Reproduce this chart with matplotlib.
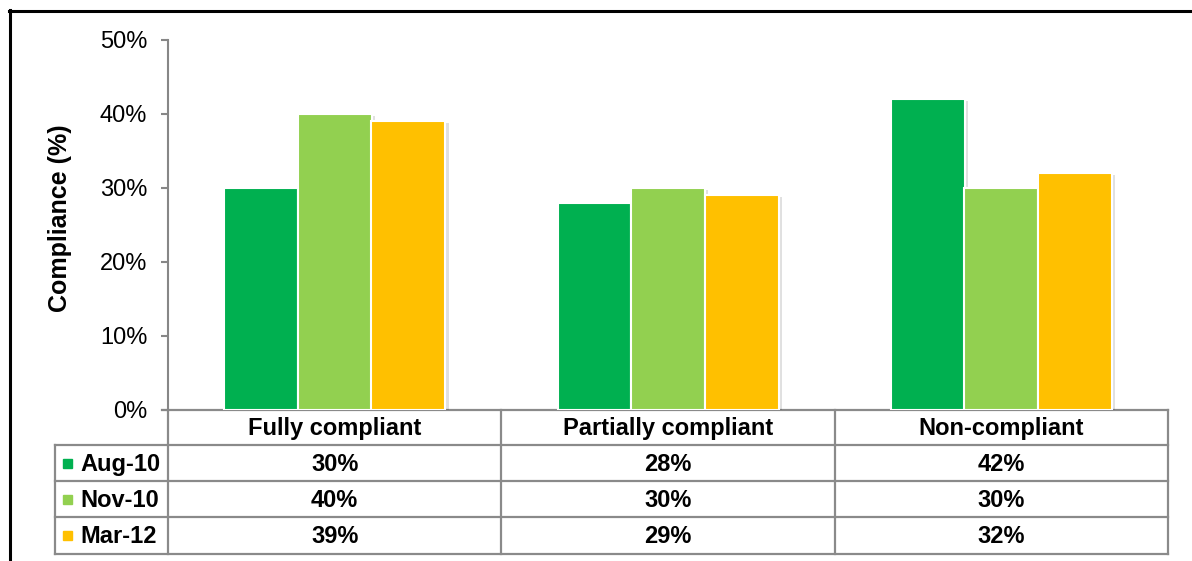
import matplotlib
matplotlib.use("Agg")
import matplotlib.pyplot as plt
from matplotlib.lines import Line2D
from matplotlib.patches import Rectangle
import matplotlib.patheffects as pe
import numpy as np

categories = ["Fully compliant", "Partially compliant", "Non-compliant"]
series_names = ["Aug-10", "Nov-10", "Mar-12"]
aug10 = [30, 28, 42]
nov10 = [40, 30, 30]
mar12 = [39, 29, 32]
colors = ["#00B050", "#92D050", "#FFC000"]
yticks = [0, 10, 20, 30, 40, 50]
ylabel = "Compliance (%)"

plt.rcParams['font.family'] = ['Liberation Sans', 'DejaVu Sans']

W, H = 1192, 561
fig = plt.figure(figsize=(W / 100, H / 100), dpi=100)

# pixel-layout helper axes (full figure)
bg = fig.add_axes([0, 0, 1, 1])
bg.set_xlim(0, W)
bg.set_ylim(H, 0)
bg.axis("off")

# figure frame (top and left)
bg.add_line(Line2D([9, W], [10.5, 10.5], color="black", lw=2.2))
bg.add_line(Line2D([9.5, 9.5], [10, H], color="black", lw=2.2))

ax_left, ax_right, ax_top, ax_bot = 168, 1168, 40, 410
ax = fig.add_axes([ax_left / W, (H - ax_bot) / H, (ax_right - ax_left) / W, (ax_bot - ax_top) / H])
ax.set_xlim(-0.5, len(categories) - 0.5)
ax.set_ylim(0, 50)

series = [aug10, nov10, mar12]
bw = 0.221
x = np.arange(len(categories))
for i, (vals, c) in enumerate(zip(series, colors)):
    ax.bar(x + (i - 1) * bw, vals, width=bw, color=c, edgecolor="white", linewidth=1.5,
           zorder=3,
           path_effects=[pe.SimplePatchShadow(offset=(2.5, -1.5), shadow_rgbFace="#000000", alpha=0.12), pe.Normal()])

for s in ["top", "right", "bottom"]:
    ax.spines[s].set_visible(False)
ax.spines["left"].set_color("#878787")
ax.spines["left"].set_linewidth(1.5)
ax.set_yticks(yticks)
ax.set_yticklabels([f"{t}%" for t in yticks])
ax.tick_params(axis="y", length=5, width=1.5, color="#878787", pad=10, labelsize=17, labelcolor="black")
ax.set_xticks([])
ax.patch.set_alpha(0)

fig.text(60 / W, 1 - 218 / H, ylabel, rotation=90, ha="center", va="center",
         fontsize=18, fontweight="bold")

# data table drawn in pixel coordinates
gc = "#8a8a8a"
lw = 1.6
tbl_left = 55
row_y = [410, 445, 481, 517, 554]
col_x = [ax_left + k * (ax_right - ax_left) / len(categories) for k in range(len(categories) + 1)]

# horizontal lines
bg.add_line(Line2D([ax_left - 6, ax_right], [row_y[0], row_y[0]], color=gc, lw=lw))
for yy in row_y[1:]:
    bg.add_line(Line2D([tbl_left, ax_right], [yy, yy], color=gc, lw=lw))
# vertical lines
bg.add_line(Line2D([tbl_left, tbl_left], [row_y[1], row_y[-1]], color=gc, lw=lw))
for k, xx in enumerate(col_x):
    bg.add_line(Line2D([xx, xx], [row_y[0], row_y[-1]], color=gc, lw=lw))

# header
for k, cat in enumerate(categories):
    cx = (col_x[k] + col_x[k + 1]) / 2
    bg.text(cx, (row_y[0] + row_y[1]) / 2 + 1, cat, ha="center", va="center",
            fontsize=17, fontweight="bold")

# rows
for r, (name, vals, c) in enumerate(zip(series_names, series, colors)):
    cy = (row_y[r + 1] + row_y[r + 2]) / 2 + 1
    bg.add_patch(Rectangle((63, cy - 5.5), 9, 9, color=c))
    bg.text(80, cy, name, ha="left", va="center", fontsize=17, fontweight="bold")
    for k, v in enumerate(vals):
        cx = (col_x[k] + col_x[k + 1]) / 2
        bg.text(cx, cy, f"{v}%", ha="center", va="center", fontsize=17, fontweight="bold")

fig.savefig("out.png", dpi=100)
